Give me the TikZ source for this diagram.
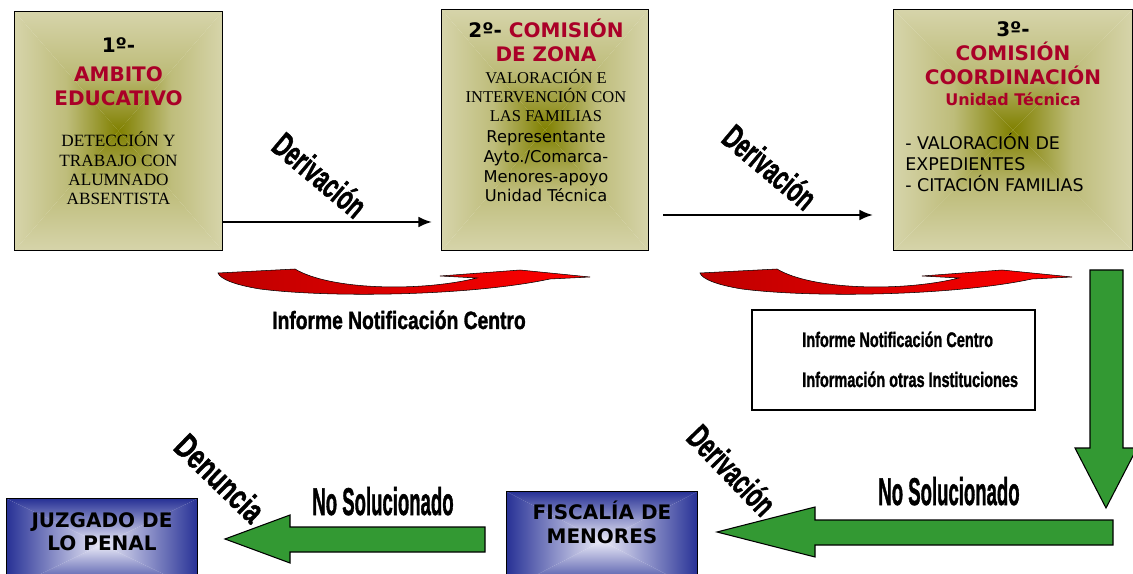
\documentclass[tikz,border=0pt]{standalone}
\usepackage{fontspec}
\setmainfont{Liberation Serif}
\newfontfamily\verdana{DejaVu Sans}
\newfontfamily\arialn{Liberation Sans}[BoldFeatures={FakeBold=1.6}]
\usepackage{graphicx}
\usepackage{tikz}
\usetikzlibrary{arrows.meta}

\definecolor{titred}{RGB}{170,0,40}
\definecolor{olv}{RGB}{128,128,0}
\definecolor{bge}{RGB}{214,212,170}
\definecolor{bxblue}{RGB}{40,50,150}
\definecolor{bxlight}{RGB}{235,235,248}
\definecolor{arrgreen}{RGB}{51,153,51}
\definecolor{darkred}{RGB}{190,0,0}

% rectangle gradient: four triangles from the edges to the centre of a node
\newcommand{\rectgrad}[4]{%
  \shade[top color=#2, bottom color=#4, middle color=#3] (#1.north west) -- (#1.north east) -- (#1.center) -- cycle;
  \shade[top color=#4, bottom color=#2, middle color=#3] (#1.south west) -- (#1.south east) -- (#1.center) -- cycle;
  \shade[left color=#2, right color=#4, middle color=#3] (#1.north west) -- (#1.south west) -- (#1.center) -- cycle;
  \shade[left color=#4, right color=#2, middle color=#3] (#1.north east) -- (#1.south east) -- (#1.center) -- cycle;
  \draw[line width=1.1pt] (#1.south west) rectangle (#1.north east);}

\newcommand{\narrowtxt}[2]{\scalebox{#1}[1]{#2}}

\begin{document}
\begin{tikzpicture}[x=0.75pt,y=0.75pt,yscale=-1,
  panel/.style={inner sep=0pt},
  head/.style={font=\verdana\bfseries\fontsize{15}{18}\selectfont, align=center, anchor=base, inner sep=0pt},
  flow/.style={line width=1.1pt, -{Latex[length=10pt,width=8pt]}},
  swoosh/.style={draw=black, line width=0.4pt, left color=darkred, right color=red},
  block/.style={draw=black, line width=0.8pt, fill=arrgreen},
  wordart/.style={font=\arialn\bfseries\fontsize{26}{30}\selectfont, inner sep=0pt}]
\useasboundingbox (0,0) rectangle (1133,574);

%Shape: Rectangle [stage 1]
\node[panel, minimum width=155.25pt, minimum height=178.5pt] (amb) at (118.5,131) {};
\rectgrad{amb}{bge}{bge!72!olv}{olv}
%Shape: Rectangle [stage 2]
\node[panel, minimum width=154.5pt, minimum height=180pt] (zona) at (545,130) {};
\rectgrad{zona}{bge}{bge!72!olv}{olv}
%Shape: Rectangle [stage 3]
\node[panel, minimum width=178.5pt, minimum height=180pt] (coord) at (1013,130) {};
\rectgrad{coord}{bge}{bge!72!olv}{olv}
%Shape: Rectangle [juzgado]
\node[panel, minimum width=142.5pt, minimum height=68.25pt] (juz) at (102,544.5) {};
\rectgrad{juz}{bxblue}{bxblue!50!bxlight}{bxlight}
%Shape: Rectangle [fiscalia]
\node[panel, minimum width=142.5pt, minimum height=73.5pt] (fis) at (602,541) {};
\rectgrad{fis}{bxblue}{bxblue!50!bxlight}{bxlight}
%Shape: Rectangle [informes]
\node[draw, line width=1pt, minimum width=212.25pt, minimum height=75pt] (info) at (893.5,360) {};

% Text Node (anchored on the last line)
\node[head] (amb-h) at (118.5,106) {1º-\\[3.75pt]\textcolor{titred}{AMBITO}\\\textcolor{titred}{EDUCATIVO}};
% Text Node
\node[anchor=base, align=center, inner sep=0pt, font=\fontsize{12.9}{14.6}\selectfont] (amb-d) at (118.5,205) {DETECCIÓN Y\\TRABAJO CON\\ALUMNADO\\ABSENTISTA};
% Text Node
\node[head] (zona-h) at (546,62) {2º- \textcolor{titred}{COMISIÓN}\\\textcolor{titred}{DE ZONA}};
% Text Node
\node[anchor=base, align=center, inner sep=0pt, font=\fontsize{12.4}{14.6}\selectfont] (zona-s) at (546,122) {VALORACIÓN E\\INTERVENCIÓN CON\\LAS FAMILIAS};
% Text Node
\node[anchor=base, align=center, inner sep=0pt, font=\verdana\fontsize{12.2}{14.8}\selectfont] (zona-r) at (546,202) {Representante\\Ayto./Comarca-\\Menores-apoyo\\Unidad Técnica};
% Text Node
\node[head] (coord-h) at (1013,85) {3º-\\\textcolor{titred}{COMISIÓN}\\\textcolor{titred}{COORDINACIÓN}};
% Text Node
\node[anchor=base, inner sep=0pt, text=titred, font=\verdana\bfseries\fontsize{12}{14}\selectfont] (coord-u) at (1013,106) {Unidad Técnica};
% Text Node
\node[anchor=base west, align=left, inner sep=0pt, font=\verdana\fontsize{13.1}{15.75}\selectfont] (coord-l) at (905,192) {- VALORACIÓN DE\\EXPEDIENTES\\- CITACIÓN FAMILIAS};
% Text Node
\node[head, font=\verdana\bfseries\fontsize{15}{17.25}\selectfont] (juz-t) at (102,550) {JUZGADO DE\\LO PENAL};
% Text Node
\node[head] (fis-t) at (602,543) {FISCALÍA DE\\MENORES};

%Straight Lines [derivacion 1]
\coordinate (d1) at (222,222);
\draw[flow] (amb.east |- d1) -- ([xshift=-7.5pt]zona.west |- d1);
%Straight Lines [derivacion 2]
\coordinate (d2) at (663,215);
\draw[flow] (d2) -- ([xshift=-15.75pt]coord.west |- d2);

%Shape: Curved Arrow [informe 1]
\draw[swoosh] (218,273) -- (295,269) .. controls (330,290) and (420,292) .. (477,278) -- (440,276) -- (520,270) -- (590,277) -- (550,279) .. controls (470,296) and (330,298) .. (260,289) .. controls (235,285) and (220,279) .. (218,273) -- cycle;
%Shape: Curved Arrow [informe 2]
\draw[swoosh] (700,273) -- (777,269) .. controls (812,290) and (902,292) .. (959,278) -- (922,276) -- (1002,270) -- (1072,277) -- (1032,279) .. controls (952,296) and (812,298) .. (742,289) .. controls (717,285) and (702,279) .. (700,273) -- cycle;

%Shape: Down Arrow
\draw[block] (1090,270) -- (1123,270) -- (1123,448) -- (1137,448) -- (1106,508) -- (1075,448) -- (1090,448) -- cycle;
%Shape: Left Arrow [to fiscalia]
\draw[block] (1113,520) -- (815,520) -- (815,507) -- (717,532) -- (815,557) -- (815,545) -- (1113,545) -- cycle;
%Shape: Left Arrow [to juzgado]
\draw[block] (485,527) -- (290,527) -- (290,515) -- (225,539) -- (290,563) -- (290,552) -- (485,552) -- cycle;

% Text Node
\node[wordart, rotate=-40] (der1) at (320,175) {\narrowtxt{0.62}{Derivación}};
% Text Node
\node[wordart, rotate=-40] (der2) at (770,167) {\narrowtxt{0.62}{Derivación}};
% Text Node
\node[wordart, rotate=-46] (der3) at (732,470) {\narrowtxt{0.62}{Derivación}};
% Text Node
\node[wordart, rotate=-44] (den) at (220,478) {\narrowtxt{0.7}{Denuncia}};
% Text Node
\node[anchor=base, inner sep=0pt, font=\arialn\bfseries\fontsize{18.75}{22}\selectfont] (inf) at (399,329) {\narrowtxt{0.77}{Informe Notificación Centro}};
% Text Node
\node[anchor=base west, align=left, inner sep=0pt, font=\arialn\bfseries\fontsize{15.75}{30}\selectfont] (info-t) at (802,387) {\narrowtxt{0.69}{Informe Notificación Centro}\\\narrowtxt{0.69}{Información otras Instituciones}};
% Text Node
\node[anchor=base, inner sep=0pt, font=\arialn\bfseries\fontsize{29}{34}\selectfont] (nosol1) at (383,515) {\narrowtxt{0.48}{No Solucionado}};
% Text Node
\node[anchor=base, inner sep=0pt, font=\arialn\bfseries\fontsize{29}{34}\selectfont] (nosol2) at (949,505) {\narrowtxt{0.48}{No Solucionado}};

\end{tikzpicture}
\end{document}
